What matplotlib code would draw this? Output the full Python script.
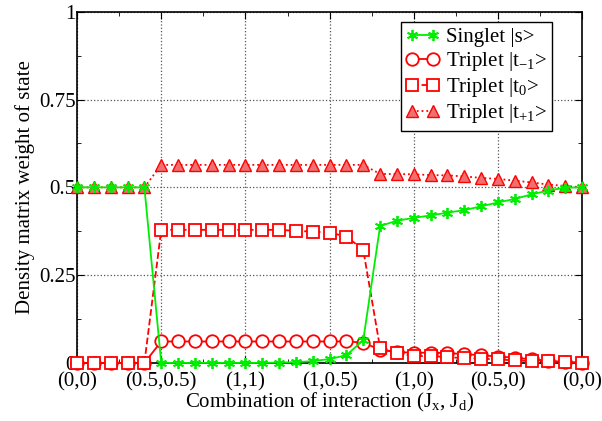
import numpy as np
import matplotlib
matplotlib.use("AGG")
import matplotlib.pyplot as plt
from matplotlib.ticker import MultipleLocator

plt.rcParams['font.family'] = ['Liberation Serif', 'DejaVu Serif']
plt.rcParams['mathtext.fontset'] = 'custom'
plt.rcParams['mathtext.rm'] = 'Liberation Serif'

# values along the path of (Jx, Jd) combinations, 31 points
singlet = [0.5, 0.5, 0.5, 0.5, 0.5,
           0.0, 0.0, 0.0, 0.0, 0.0, 0.0, 0.0, 0.001, 0.002, 0.005,
           0.011, 0.022, 0.065, 0.39, 0.405, 0.413, 0.42, 0.428, 0.435, 0.446,
           0.457, 0.467, 0.48, 0.491, 0.499, 0.5]
t_m1 = [0.0, 0.0, 0.0, 0.0, 0.0,
        0.061, 0.061, 0.061, 0.061, 0.061, 0.061, 0.061, 0.061, 0.061, 0.061,
        0.061, 0.061, 0.058, 0.037, 0.031, 0.029, 0.029, 0.028, 0.025, 0.022,
        0.018, 0.015, 0.01, 0.006, 0.003, 0.0]
t_0 = [0.0, 0.0, 0.0, 0.0, 0.0,
       0.379, 0.379, 0.379, 0.379, 0.379, 0.379, 0.379, 0.379, 0.376, 0.374,
       0.371, 0.36, 0.322, 0.042, 0.028, 0.019, 0.02, 0.016, 0.014, 0.012,
       0.01, 0.007, 0.005, 0.004, 0.002, 0.0]
t_p1 = [0.5, 0.5, 0.5, 0.5, 0.5,
        0.564, 0.564, 0.564, 0.564, 0.564, 0.564, 0.564, 0.564, 0.564, 0.564,
        0.564, 0.564, 0.564, 0.538, 0.538, 0.537, 0.535, 0.534, 0.531, 0.527,
        0.524, 0.519, 0.514, 0.508, 0.504, 0.5]
tick_labels = ["(0,0)", "(0.5,0.5)", "(1,1)", "(1,0.5)", "(1,0)", "(0.5,0)", "(0,0)"]

x = np.arange(len(singlet))
fs = 15

fig = plt.figure(figsize=(6.02, 4.21), dpi=100)
ax = fig.add_axes([0.128, 0.138, 0.839, 0.834])

ax.plot(x, singlet, color="#00ee00", ls="-", lw=1.3, marker=(6, 2, 0), ms=8, mew=1.3,
        mec="#00ee00", mfc="#00ee00", label="Singlet |s>", clip_on=False, zorder=5)
ax.plot(x, t_m1, color="red", ls="-", lw=1.3, marker="o", ms=9,
        mfc="white", mec="red", mew=1.3, label="Triplet |t$_\\mathrm{-1}$>", clip_on=False, zorder=4)
ax.plot(x, t_0, color="red", ls="--", lw=1.3, marker="s", ms=8,
        mfc="white", mec="red", mew=1.3, label="Triplet |t$_\\mathrm{0}$>", clip_on=False, zorder=4)
ax.plot(x, t_p1, color="red", ls=":", lw=1.3, marker="^", ms=9,
        mfc="#f07070", mec="red", mew=1.0, label="Triplet |t$_\\mathrm{+1}$>", clip_on=False, zorder=4)

ax.set_xlim(0, 30)
ax.set_ylim(0, 1)
ax.set_xticks(np.arange(0, 31, 5))
ax.set_xticklabels(tick_labels)
ax.xaxis.set_minor_locator(MultipleLocator(2.5))
ax.set_yticks([0, 0.25, 0.5, 0.75, 1])
ax.set_yticklabels(["0", "0.25", "0.5", "0.75", "1"])
ax.yaxis.set_minor_locator(MultipleLocator(0.125))
ax.tick_params(which="both", direction="in", top=True, right=True, labelsize=fs, pad=1)
ax.tick_params(axis="x", which="major", pad=7)
ax.tick_params(which="major", length=5)
ax.tick_params(which="minor", length=3)
ax.grid(True, which="major", ls=":", color="#555555", lw=0.9)
for s in ax.spines.values():
    s.set_linewidth(1.2)

ax.set_xlabel("Combination of interaction (J$_\\mathrm{x}$, J$_\\mathrm{d}$)", fontsize=fs, labelpad=-1)
ax.set_ylabel("Density matrix weight of state", fontsize=fs, labelpad=3)

leg = ax.legend(loc="upper right", fontsize=fs, numpoints=2, fancybox=False,
                framealpha=1, edgecolor="black", handlelength=1.6, handletextpad=0.3,
                labelspacing=0.15, borderpad=0.25, borderaxespad=0,
                bbox_to_anchor=(0.94, 0.97))
leg.get_frame().set_linewidth(1.0)

plt.savefig("out.png", dpi=100)
